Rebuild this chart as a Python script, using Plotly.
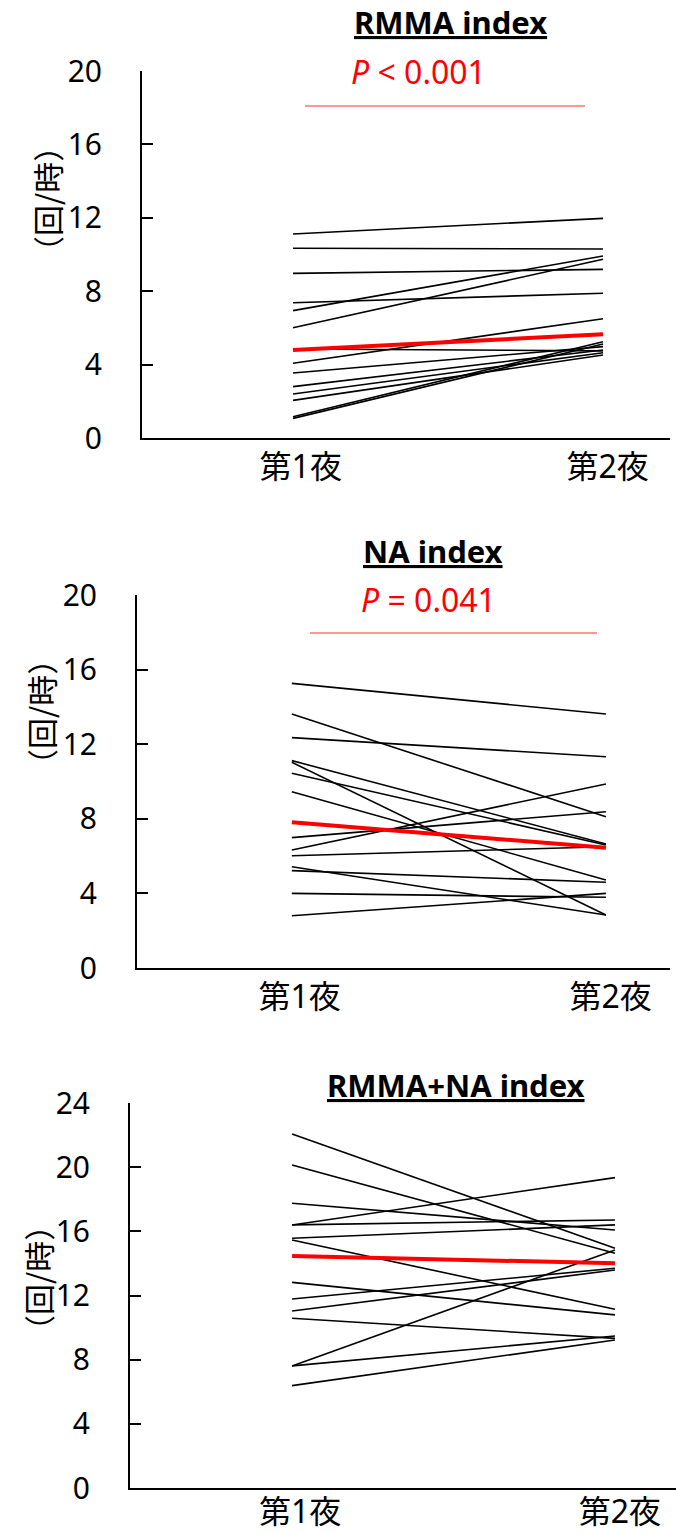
import plotly.graph_objects as go

# Category labels and y-axis ticks
nights = ["第1夜", "第2夜"]
ticks_20 = [0, 4, 8, 12, 16, 20]
ticks_24 = [0, 4, 8, 12, 16, 20, 24]

# RMMA index (events/hour), one entry per subject
rmma_night1 = [11.12, 10.34, 8.97, 7.37, 6.94, 6.01, 4.85, 4.07, 3.54, 2.80, 2.40, 2.05, 1.16, 1.07]
rmma_night2 = [11.97, 10.30, 9.19, 7.89, 9.92, 9.74, 4.75, 6.50, 4.98, 4.80, 4.65, 4.52, 5.25, 5.12]
rmma_mean = [4.80, 5.65]

# NA index (events/hour)
na_night1 = [15.26, 13.62, 12.35, 11.12, 11.03, 10.44, 9.45, 6.99, 6.33, 6.02, 5.43, 5.22, 4.00, 2.80]
na_night2 = [13.62, 8.11, 11.33, 6.65, 2.84, 6.60, 4.72, 8.38, 9.87, 6.50, 2.84, 4.60, 3.79, 4.00]
na_mean = [7.81, 6.45]

# RMMA+NA index (events/hour)
total_night1 = [22.07, 20.14, 17.75, 16.40, 16.40, 15.57, 15.46, 12.82, 11.78, 11.03, 10.58, 7.61, 7.61, 6.38]
total_night2 = [14.94, 14.63, 16.08, 19.35, 16.71, 16.40, 11.14, 10.79, 13.70, 13.59, 9.33, 14.84, 9.48, 9.23]
total_mean = [14.46, 14.01]

titles = ["RMMA index", "NA index", "RMMA+NA index"]
p_texts = ["<i>P</i> < 0.001", "<i>P</i> = 0.041", None]

W, H = 676, 1534
FONT = "Noto Sans, Noto Sans CJK JP, sans-serif"
CJK_FONT = "Noto Sans CJK JP, sans-serif"

fig = go.Figure()


def paired_trace(n1, n2, xa, ya):
    xs, ys = [], []
    for a, b in zip(n1, n2):
        xs += [0, 1, None]
        ys += [a, b, None]
    return go.Scatter(x=xs, y=ys, mode="lines", xaxis=xa, yaxis=ya,
                      line=dict(color="black", width=1.6), hoverinfo="skip",
                      showlegend=False)


def mean_trace(m, xa, ya):
    return go.Scatter(x=[0, 1], y=m, mode="lines", xaxis=xa, yaxis=ya,
                      line=dict(color="#ff0000", width=4), hoverinfo="skip",
                      showlegend=False)


panels = [
    (rmma_night1, rmma_night2, rmma_mean),
    (na_night1, na_night2, na_mean),
    (total_night1, total_night2, total_mean),
]
axis_ids = [("x", "y"), ("x2", "y2"), ("x3", "y3")]
for (n1, n2, m), (xa, ya) in zip(panels, axis_ids):
    fig.add_trace(paired_trace(n1, n2, xa, ya))
    fig.add_trace(mean_trace(m, xa, ya))


def px_y(p):
    return 1 - p / H


def px_x(p):
    return p / W


# plot-area geometry in pixels: (left, right, top, bottom, x-range, y-range,
# y ticks, x-label standoff)
geom = [
    (142, 670, 71, 438, [-0.487, 1.216], [0, 20], ticks_20, 0),
    (137, 670, 595, 968, [-0.493, 1.204], [0, 20], ticks_20, 0),
    (130, 676, 1103, 1488, [-0.502, 1.189], [0, 24], ticks_24, -5),
]

axis_common = dict(showgrid=False, zeroline=False, showline=True,
                   linecolor="black", linewidth=2, automargin=False,
                   fixedrange=True)

for i, (l, r, t, b, xr, yr, yt, so) in enumerate(geom):
    sfx = "" if i == 0 else str(i + 1)
    fig.layout["xaxis" + sfx] = dict(
        domain=[px_x(l), px_x(r)], range=xr, anchor="y" + sfx,
        tickvals=[0.025, 1.015], ticktext=nights, ticks="",
        tickfont=dict(family=FONT, size=32, color="black"),
        ticklabelstandoff=so, **axis_common)
    fig.layout["yaxis" + sfx] = dict(
        domain=[px_y(b), px_y(t)], range=yr, anchor="x" + sfx,
        tickvals=yt, ticks="inside", ticklen=11, tickwidth=2,
        tickcolor="black",
        tickfont=dict(family=FONT, size=30, color="black"),
        ticklabelstandoff=32, **axis_common)

annotations = []
shapes = []

# panel titles, P values and bracket lines (pixel positions)
title_pos = [(450, 22), (433, 551), (456, 1085)]
p_pos = [(418, 72), (428, 600)]
bar_pos = [(305, 585, 106), (310, 597, 633)]
ylabel_pos = [(46, 199), (40, 712), (37, 1278)]

for i in range(3):
    tx, ty = title_pos[i]
    annotations.append(dict(
        x=px_x(tx), y=px_y(ty), xref="paper", yref="paper",
        text="<b><u>" + titles[i] + "</u></b>", showarrow=False,
        font=dict(family=FONT, size=31, color="black"),
        xanchor="center", yanchor="middle"))
    lx, ly = ylabel_pos[i]
    annotations.append(dict(
        x=px_x(lx), y=px_y(ly), xref="paper", yref="paper",
        text="（回/時）", showarrow=False, textangle=-90,
        font=dict(family=CJK_FONT, size=31, color="black"),
        xanchor="center", yanchor="middle"))
    if p_texts[i]:
        px_, py_ = p_pos[i]
        annotations.append(dict(
            x=px_x(px_), y=px_y(py_), xref="paper", yref="paper",
            text=p_texts[i], showarrow=False,
            font=dict(family=FONT, size=32, color="#ff0000"),
            xanchor="center", yanchor="middle"))
        x0, x1, yb = bar_pos[i]
        shapes.append(dict(
            type="line", xref="paper", yref="paper",
            x0=px_x(x0), x1=px_x(x1), y0=px_y(yb), y1=px_y(yb),
            line=dict(color="#ff3030", width=1.2)))

fig.update_layout(
    width=W, height=H,
    margin=dict(l=0, r=0, t=0, b=0, autoexpand=False),
    paper_bgcolor="white", plot_bgcolor="white",
    annotations=annotations, shapes=shapes,
    showlegend=False,
)

fig.write_html("out.html", config={"displayModeBar": False})
